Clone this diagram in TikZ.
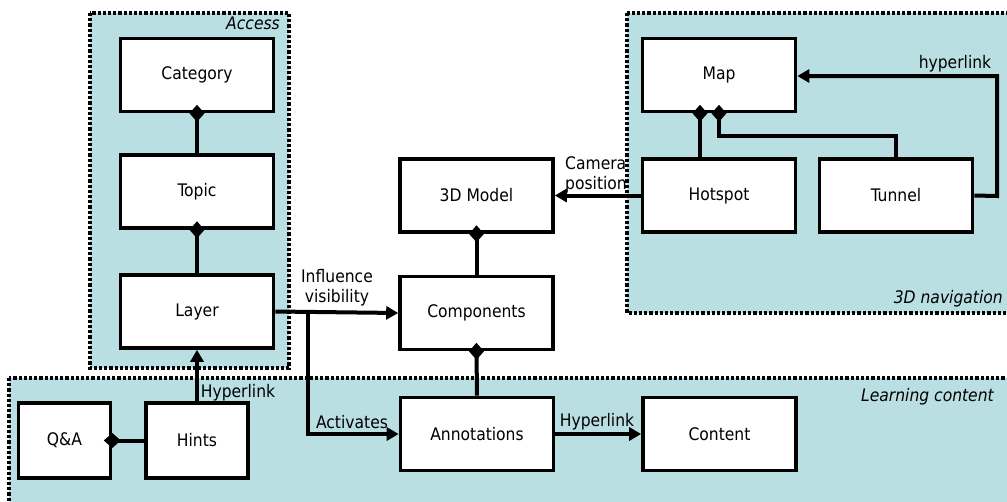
\documentclass[tikz,border=0pt]{standalone}
\usepackage{fontspec}
\setmainfont{DejaVu Sans Condensed}
\usetikzlibrary{arrows.meta}
\definecolor{grpfill}{RGB}{185,223,227}
\tikzset{
  x=1pt, y=-1pt,
  every node/.style={font=\fontsize{17.3}{20}\selectfont},
  box/.style={draw, line width=3.6pt, fill=white, minimum width=153pt, minimum height=73pt, inner sep=0pt},
  smallbox/.style={box, minimum width=92pt},
  group/.style={fill=grpfill, draw, line width=3.2pt, dash pattern=on 3.2pt off 2pt},
  grouplabel/.style={font=\fontsize{17.3}{20}\selectfont\itshape, inner sep=0pt},
  lbl/.style={inner sep=0pt, align=center},
  link/.style={line width=4pt, -{Triangle[length=12pt,width=13pt]}},
  part/.style={line width=4pt, {Diamond[length=17pt,width=15pt]}-, shorten <=-8.5pt},
}
\begin{document}
\begin{tikzpicture}
\useasboundingbox (0,0) rectangle (1007,501);
\clip (0,0) rectangle (1007,501);

% groups
\draw[group] (90,13) rectangle (289,368);
\draw[group] (627,13) rectangle (1020,313);
\draw[group] (9,378) rectangle (1020,520);
\node[grouplabel, anchor=east] (gaccess) at (280,23) {Access};
\node[grouplabel, anchor=east] (gnav) at (1003,299) {3D navigation};
\node[grouplabel, anchor=east] (glearn) at (994,397) {Learning content};

% boxes
\node[box] (category) at (197,75) {Category};
\node[box] (topic) at (197,191.5) {Topic};
\node[box] (layer) at (197,311.5) {Layer};
\node[box] (model) at (476.5,195.5) {3D Model};
\node[box] (components) at (476.5,313) {Components};
\node[box] (annotations) at (477,434) {Annotations};
\node[box] (content) at (719.5,434) {Content};
\node[box] (map) at (719,75) {Map};
\node[box] (hotspot) at (719,195.5) {Hotspot};
\node[box] (tunnel) at (896,195.5) {Tunnel};
\node[smallbox, minimum height=75pt] (qa) at (64.5,440.5) {Q\&A};
\node[box, minimum width=102pt, minimum height=75pt] (hints) at (197,440.5) {Hints};

% composition connectors
\draw[part] (category.south) -- (topic.north);
\draw[part] (topic.south) -- (layer.north);
\draw[part] (model.south) -- (components.north);
\draw[part] (components.south) -- (annotations.north);
\draw[part] (qa.east) -- (hints.west);
\draw[part] (map.south -| 700,0) -- (hotspot.north -| 700,0);
\coordinate (tunnelbend) at (896,136);
\draw[part] (map.south -| 719,0) |- (tunnelbend) -- (tunnel.north);

% link connectors
\draw[link] (layer.east) -- (components.west);
\coordinate (branch) at (308,313);
\draw[link] (branch) |- (annotations.west);
\draw[link] (hints.north) -- (layer.south);
\draw[link] (annotations.east) -- (content.west);
\draw[link] (hotspot.west) -- (model.east);
\coordinate (loopcorner) at (997,196);
\draw[link] (tunnel.east) -- (loopcorner) |- (map.east |- 0,76);

% connector labels
\node[lbl] (linfl) at (337,288) {Influence\\visibility};
\node[lbl] (lact) at (352,422) {Activates};
\node[lbl] (lhint) at (238,393) {Hyperlink};
\node[lbl] (lhyp) at (597,422) {Hyperlink};
\node[lbl, align=left, anchor=west] (lcam) at (565,175) {Camera\\position};
\node[lbl] (lmap) at (955,64) {hyperlink};
\end{tikzpicture}
\end{document}
